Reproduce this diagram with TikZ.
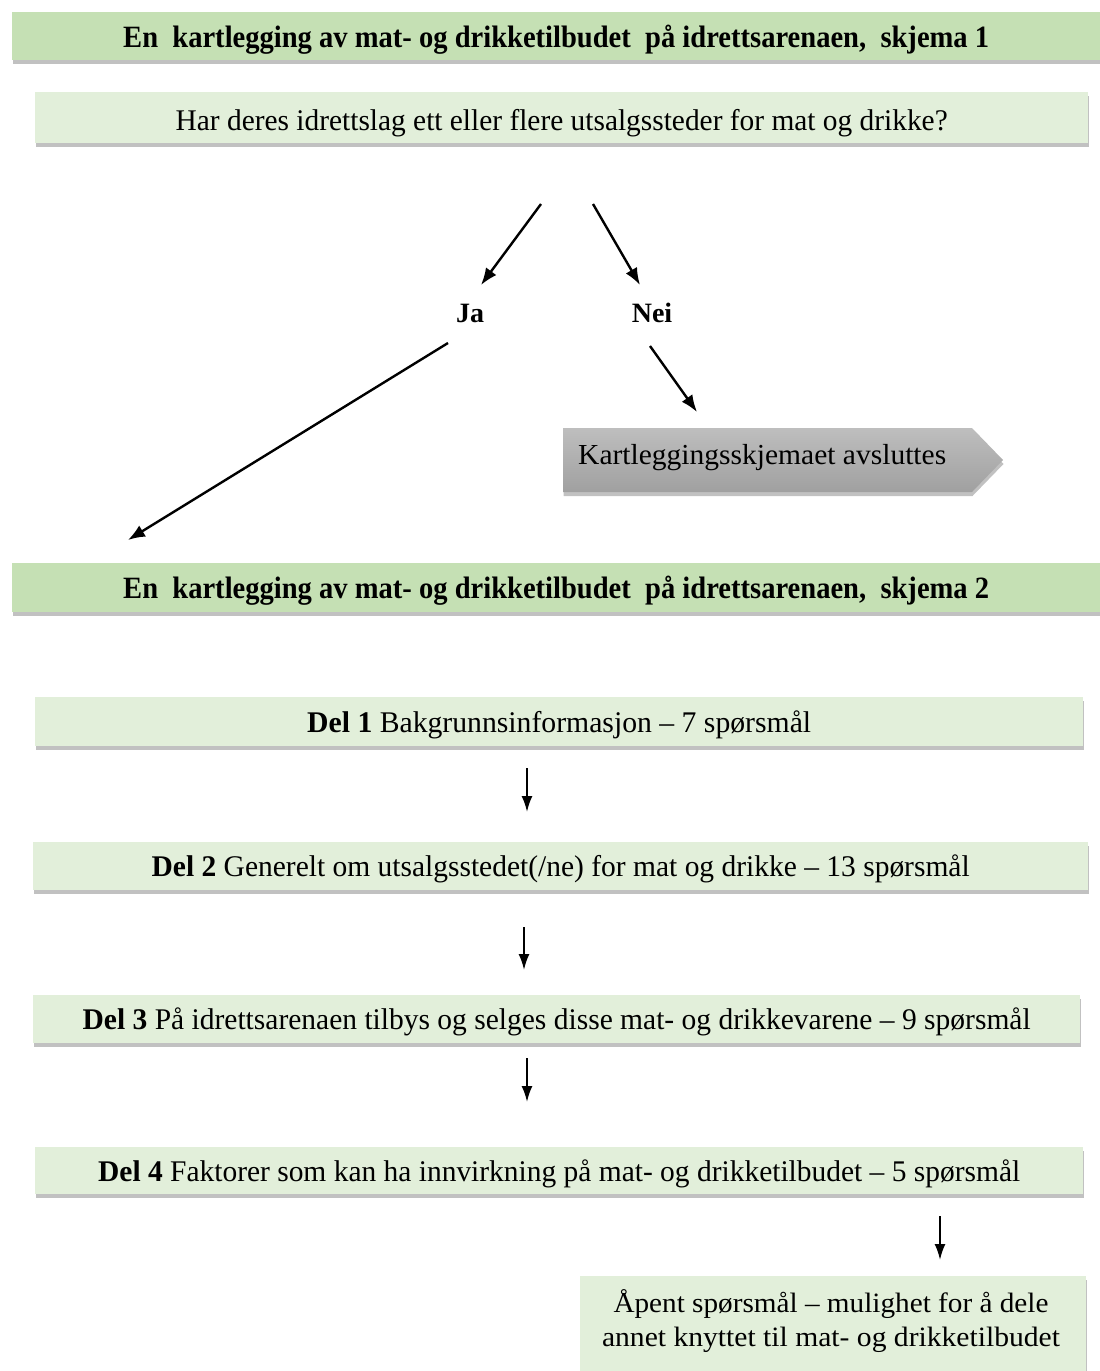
\documentclass[tikz,border=0pt]{standalone}
\usepackage{fontspec}
\setmainfont{Liberation Serif}
\usetikzlibrary{arrows.meta,shadows}
\definecolor{titlegreen}{RGB}{197,224,180}
\definecolor{lightgreen}{RGB}{226,239,218}
\definecolor{greytop}{RGB}{190,190,190}
\definecolor{greybot}{RGB}{160,160,160}
\newcommand\fitw[2]{\resizebox{#1}{\height}{#2}}
\newcommand\lowr[2]{\raisebox{-#1}[\height][\depth]{#2}}
\begin{document}
\begin{tikzpicture}[x=1pt,y=-1pt,
  shad/.style={drop shadow={shadow xshift=0.5pt, shadow yshift=-4pt, fill=black!80, opacity=0.3}},
  box/.style={rectangle, inner sep=0pt, anchor=north west, shad},
  titlebox/.style={box, fill=titlegreen, font=\fontsize{31}{34}\selectfont\bfseries},
  lightbox/.style={box, fill=lightgreen, font=\fontsize{30}{34}\selectfont},
  lab/.style={font=\fontsize{28}{30}\selectfont\bfseries, inner sep=0pt},
  arr/.style={-{Latex[length=17pt,width=13pt]}, line width=2.4pt},
  varr/.style={-{Latex[length=16pt,width=11pt]}, line width=2pt},
]
\useasboundingbox (0,0) rectangle (1100,1371);

\node[titlebox, minimum width=1088pt, minimum height=48pt] (t1) at (12,12)
  {\lowr{3pt}{\fitw{866pt}{En~ kartlegging av mat- og drikketilbudet~ på idrettsarenaen,~ skjema 1}}};
\node[lightbox, minimum width=1053pt, minimum height=51pt] (q) at (35,92)
  {\lowr{5pt}{\fitw{772pt}{Har deres idrettslag ett eller flere utsalgssteder for mat og drikke?}}};

\node[lab] (ja) at (470,313) {Ja};
\node[lab] (nei) at (652,313) {Nei};

\coordinate (qa) at (541,204);
\coordinate (qb) at (593,204);
\coordinate (jatop) at (481,285);
\coordinate (neitop) at (640,285);
\coordinate (jabot) at (448,343);
\coordinate (neibot) at (650,346);
\coordinate (t2in) at (128,540);
\coordinate (endin) at (697,412);

\draw[arr] (qa) -- (jatop);
\draw[arr] (qb) -- (neitop);
\draw[arr] (jabot) -- (t2in);
\draw[arr] (neibot) -- (endin);

\path[shad, top color=greytop, bottom color=greybot]
  (563,428) -- (972,428) -- (1003,460) -- (972,492) -- (563,492) -- cycle;
\node[anchor=west, inner sep=0pt, font=\fontsize{29}{32}\selectfont] (endtxt) at (578,458)
  {\fitw{368pt}{Kartleggingsskjemaet avsluttes}};

\node[titlebox, minimum width=1088pt, minimum height=49pt] (t2) at (12,563)
  {\lowr{3pt}{\fitw{866pt}{En~ kartlegging av mat- og drikketilbudet~ på idrettsarenaen,~ skjema 2}}};

\node[lightbox, minimum width=1048pt, minimum height=49pt] (d1) at (35,697)
  {\lowr{3pt}{\fitw{504pt}{\textbf{Del 1} Bakgrunnsinformasjon – 7 spørsmål}}};
\node[lightbox, minimum width=1055pt, minimum height=48pt] (d2) at (33,842)
  {\lowr{3pt}{\fitw{818pt}{\textbf{Del 2} Generelt om utsalgsstedet(/ne) for mat og drikke – 13 spørsmål}}};
\node[lightbox, minimum width=1047pt, minimum height=48pt] (d3) at (33,995)
  {\lowr{3pt}{\fitw{948pt}{\textbf{Del 3} På idrettsarenaen tilbys og selges disse mat- og drikkevarene – 9 spørsmål}}};
\node[lightbox, minimum width=1048pt, minimum height=47pt] (d4) at (35,1147)
  {\lowr{3pt}{\fitw{922pt}{\textbf{Del 4} Faktorer som kan ha innvirkning på mat- og drikketilbudet – 5 spørsmål}}};
\node[lightbox, minimum width=506pt, minimum height=120pt] (open) at (580,1276) {};
\node[inner sep=0pt, align=center, font=\fontsize{28}{34}\selectfont] (opentxt) at (831,1321)
  {\fitw{435pt}{Åpent spørsmål – mulighet for å dele}\\\fitw{458pt}{annet knyttet til mat- og drikketilbudet}};

\coordinate (a1) at (527,768); \coordinate (b1) at (527,812);
\coordinate (a2) at (524,927); \coordinate (b2) at (524,970);
\coordinate (a3) at (527,1058); \coordinate (b3) at (527,1102);
\coordinate (a4) at (940,1216); \coordinate (b4) at (940,1260);
\draw[varr] (a1) -- (b1);
\draw[varr] (a2) -- (b2);
\draw[varr] (a3) -- (b3);
\draw[varr] (a4) -- (b4);
\end{tikzpicture}
\end{document}
